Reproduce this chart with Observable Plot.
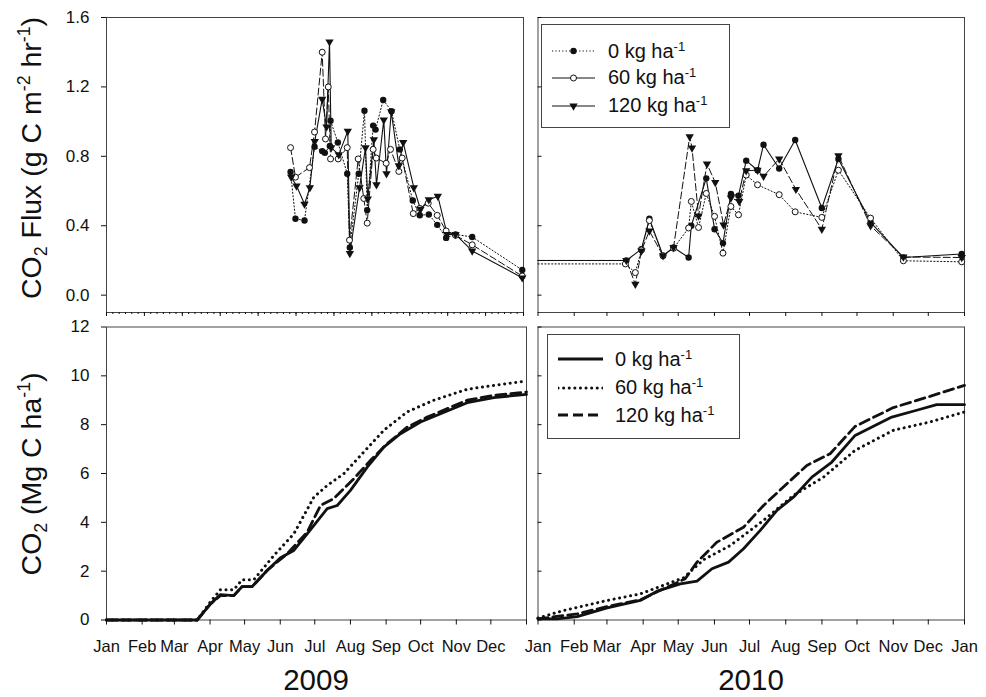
<!DOCTYPE html>
<html><head><meta charset="utf-8">
<script src="https://cdn.jsdelivr.net/npm/d3@7"></script>
<script src="https://cdn.jsdelivr.net/npm/@observablehq/plot@0.6"></script>
<style>
body{margin:0;background:#fff;font-family:"Liberation Sans",Arial,Helvetica,sans-serif;color:#111;}
#wrap{position:relative;width:986px;height:697px;overflow:hidden;background:#fff;}
#wrap > svg{position:absolute;left:0;top:0;}
.ytitle{position:absolute;white-space:nowrap;font-size:28.5px;line-height:1;transform:translate(-50%,-50%) rotate(-90deg);}
.ytitle sub,.ytitle sup{font-size:0.62em;line-height:0;}
.year{position:absolute;font-size:29.5px;line-height:1;transform:translateX(-50%);}
.legend{position:absolute;border:1px solid #444;background:#fff;box-sizing:border-box;}
.lrow{position:absolute;left:0;height:24px;display:flex;align-items:center;font-size:20px;white-space:nowrap;}
.lrow sup{font-size:0.65em;line-height:0;vertical-align:0.55em;}
.lrow svg{position:static;display:block;}
</style></head>
<body><div id="wrap"></div>
<script>
// ---------- data ----------
const monthStarts = [0,31,59,90,120,151,181,212,243,273,304,334,365];
const monthLabels = ["Jan","Feb","Mar","Apr","May","Jun","Jul","Aug","Sep","Oct","Nov","Dec","Jan"];
const fluxTicks = [0,0.4,0.8,1.2,1.6];
const cumTicks = [0,2,4,6,8,10,12];
const rates = ["0","60","120"];
const years = ["2009","2010"];

// 2009 flux (g C m-2 hr-1)
const fluxDay09_0 = [161.1,165.4,173.3,182.1,188.8,191.1,195.5,196.1,202.5,210.7,213.0,220.8,225.8,228.2,233.4,235.5,242.2,249.5,256.7,268.1,274.2,282.1,289.5,297.3,305.5,320.1,363.9];
const flux09_0    = [0.71,0.44,0.43,0.855,0.83,0.82,0.86,1.005,0.88,0.70,0.275,0.70,1.063,0.49,0.977,0.954,1.125,1.06,0.84,0.545,0.46,0.465,0.405,0.33,0.35,0.335,0.145];
const fluxDay09_60 = [161.1,165.4,177.7,182.1,188.8,191.7,194.1,196.1,202.8,210.7,212.7,220.3,225.2,228.2,233.4,236.1,244.8,248.6,255.9,258.8,268.5,274.2,281.6,289.5,297.3,305.5,320.1,363.9];
const flux09_60    = [0.85,0.68,0.735,0.94,1.40,0.90,1.20,0.785,0.785,0.85,0.317,0.785,0.557,0.415,0.84,0.79,0.76,0.84,0.713,0.79,0.47,0.50,0.53,0.46,0.37,0.345,0.29,0.11];
const fluxDay09_120 = [161.7,166.3,173.3,178.0,182.3,188.8,192.6,195.2,196.7,203.3,211.2,213.0,221.5,226.7,228.7,234.0,236.3,242.7,245.1,249.2,255.9,259.7,269.0,274.8,282.1,290.0,298.2,305.5,320.1,363.9];
const flux09_120    = [0.68,0.63,0.525,0.62,0.886,1.13,0.97,1.46,0.85,0.81,0.945,0.24,0.62,0.85,0.554,0.896,0.636,1.01,0.70,1.058,0.746,0.88,0.62,0.495,0.55,0.57,0.35,0.35,0.255,0.10];

// 2010 flux (first value = level from 1 Jan)
const fluxDay10_0 = [0,75.6,88.5,95.3,107,116,128.9,131.2,144,151.1,158.3,165.1,171.6,178.2,187.9,193,206.4,220.1,242.9,257.1,284.6,312.7,362.6];
const flux10_0    = [0.20,0.20,0.265,0.44,0.227,0.275,0.217,0.40,0.673,0.38,0.30,0.583,0.573,0.775,0.72,0.867,0.73,0.894,0.502,0.785,0.42,0.217,0.237];
const fluxDay10_60 = [0,74.8,83.3,88.5,95.3,107,116,128.9,131.2,137.4,144,151.1,158.3,165.1,171.6,178.2,187.9,206.4,220.1,242.9,257.1,284.6,312.7,362.6];
const flux10_60    = [0.18,0.18,0.13,0.26,0.43,0.227,0.27,0.387,0.54,0.39,0.586,0.454,0.242,0.511,0.463,0.692,0.636,0.579,0.48,0.448,0.72,0.444,0.198,0.192];
const fluxDay10_120 = [0,75.6,83.3,88.5,95.3,107,116,129.8,131.8,137.4,144.6,151.7,158.8,165.1,172.2,178.2,187.9,193,206.4,220.7,242.9,257.1,284.6,312.7,362.6];
const flux10_120    = [0.20,0.20,0.063,0.255,0.37,0.227,0.275,0.913,0.848,0.457,0.756,0.65,0.405,0.56,0.54,0.717,0.72,0.685,0.785,0.61,0.38,0.804,0.40,0.22,0.217];

// cumulative CO2 (Mg C ha-1)
const cumDay09_0 = [0,78.8,90.4,99,110.6,117.9,126.6,139.6,151.2,162.8,174.4,191.8,200.5,212,226.6,241,255.5,272.9,290.3,313.5,336.6,365];
const cum09_0    = [0,0,0.66,1.04,1.0,1.37,1.37,2.03,2.55,2.85,3.53,4.56,4.69,5.31,6.26,7.08,7.63,8.11,8.45,8.9,9.11,9.24];
const cumDay09_60 = [0,78.8,90.4,99,110.6,117.9,128,145.4,162.8,180.2,191.8,206.2,223.6,241,261.3,284.4,313.5,336.6,365];
const cum09_60    = [0,0,0.75,1.24,1.24,1.65,1.65,2.64,3.53,5.03,5.51,5.99,6.88,7.77,8.52,9.0,9.45,9.61,9.79];
const cumDay09_120 = [0,78.8,90.4,99,110.6,117.9,126.6,139.6,157,174.4,186,197.5,215,229.4,243.9,261.3,278.7,313.5,336.6,365];
const cum09_120    = [0,0,0.66,1.0,1.0,1.37,1.37,2.03,2.71,3.6,4.69,4.97,5.79,6.54,7.22,7.9,8.31,9.0,9.2,9.34];

const cumDay10_0 = [0,16.4,33.5,59.2,87.6,101.9,121.8,136.1,148.9,163.1,175.9,190.2,204.5,218.6,234.4,251.5,271.4,302.8,324.1,341.2,365];
const cum10_0    = [0.05,0.05,0.14,0.5,0.8,1.18,1.48,1.59,2.1,2.37,2.92,3.67,4.49,5.03,5.85,6.47,7.56,8.31,8.59,8.82,8.82];
const cumDay10_60 = [0,22,59.2,87.6,124.6,141.7,164.5,193,218.6,244.3,271.4,304.1,335.5,365];
const cum10_60    = [0.08,0.39,0.8,1.07,1.73,2.47,3.05,4.08,5.1,5.85,6.95,7.77,8.11,8.52];
const cumDay10_120 = [0,33.5,59.2,87.6,126,136.1,153.2,175.9,193,213,230.1,250,271.4,304.1,335.5,365];
const cum10_120    = [0.05,0.25,0.55,0.83,1.69,2.37,3.19,3.8,4.69,5.58,6.33,6.81,7.93,8.7,9.16,9.61];

// ---------- helpers ----------
const zip = (days, vals) => days.map((d, i) => ({day: d, v: vals[i]}));
const INK = "#111";
const FONT = "'Liberation Sans', Arial, Helvetica, sans-serif";
const triDown = {draw(ctx, size) {
  const s3 = Math.sqrt(3), y = -Math.sqrt(size / (s3 * 3));
  ctx.moveTo(0, -y * 2); ctx.lineTo(-s3 * y, y); ctx.lineTo(s3 * y, y); ctx.closePath();
}};
function base(x0, x1, y0, y1, yDomain) {
  return {
    width: 986, height: 697,
    marginLeft: x0, marginRight: 986 - x1, marginTop: y0, marginBottom: 697 - y1,
    x: {domain: [0, 365]}, y: {domain: yDomain},
    style: {background: "transparent", overflow: "visible", fontFamily: FONT, color: INK}
  };
}
const noText = () => "";
const wrap = document.getElementById("wrap");

// top-left axis: 11 equal intervals with minor ticks
const tlMajor = d3.range(12).map(i => i * 365 / 11);
const tlMinor = d3.range(67).map(i => i * 365 / 66);

// ---------- panel: flux 2009 ----------
const t0 = zip(fluxDay09_0, flux09_0), t60 = zip(fluxDay09_60, flux09_60), t120 = zip(fluxDay09_120, flux09_120);
wrap.append(Plot.plot({
  ...base(106, 523, 17, 312, [-0.1, 1.6]),
  marks: [
    Plot.frame({stroke: "#444"}),
    Plot.axisY({ticks: fluxTicks, tickFormat: d3.format(".1f"), tickSize: 5, tickPadding: 12, fontSize: 17, label: null}),
    Plot.axisX({ticks: tlMajor, tickSize: 4, tickFormat: noText, label: null}),
    Plot.axisX({ticks: tlMinor, tickSize: 2, tickFormat: noText, label: null}),
    Plot.line(t0, {x: "day", y: "v", stroke: INK, strokeWidth: 1, strokeDasharray: "1.2,2.2"}),
    Plot.line(t60, {x: "day", y: "v", stroke: INK, strokeWidth: 1, strokeDasharray: "7,3"}),
    Plot.line(t120, {x: "day", y: "v", stroke: INK, strokeWidth: 1.1}),
    Plot.dot(t0, {x: "day", y: "v", r: 3.2, fill: INK}),
    Plot.dot(t60, {x: "day", y: "v", r: 3, fill: "white", stroke: INK, strokeWidth: 1}),
    Plot.dot(t120, {x: "day", y: "v", r: 3.1, symbol: triDown, fill: INK})
  ]
}));

// ---------- panel: flux 2010 ----------
const u0 = zip(fluxDay10_0, flux10_0), u60 = zip(fluxDay10_60, flux10_60), u120 = zip(fluxDay10_120, flux10_120);
const sampled = d => d.day > 0;
wrap.append(Plot.plot({
  ...base(537.5, 964, 17, 312, [-0.1, 1.6]),
  marks: [
    Plot.frame({stroke: "#444"}),
    Plot.axisY({ticks: fluxTicks, tickSize: 4, dx: 4, tickFormat: noText, label: null}),
    Plot.axisX({ticks: monthStarts, tickSize: 4, tickFormat: noText, label: null}),
    Plot.line(u0, {x: "day", y: "v", stroke: INK, strokeWidth: 1.1}),
    Plot.line(u60, {x: "day", y: "v", stroke: INK, strokeWidth: 1, strokeDasharray: "1.2,2.2"}),
    Plot.line(u120, {x: "day", y: "v", stroke: INK, strokeWidth: 1, strokeDasharray: "7,3"}),
    Plot.dot(u0, {filter: sampled, x: "day", y: "v", r: 3.2, fill: INK}),
    Plot.dot(u60, {filter: sampled, x: "day", y: "v", r: 3, fill: "white", stroke: INK, strokeWidth: 1}),
    Plot.dot(u120, {filter: sampled, x: "day", y: "v", r: 3.1, symbol: triDown, fill: INK})
  ]
}));

// ---------- panels: cumulative ----------
const cumLines = (a, b, c) => [
  Plot.line(a, {x: "day", y: "v", stroke: INK, strokeWidth: 2.8}),
  Plot.line(b, {x: "day", y: "v", stroke: INK, strokeWidth: 3, strokeDasharray: "0.1,5.5", strokeLinecap: "round"}),
  Plot.line(c, {x: "day", y: "v", stroke: INK, strokeWidth: 2.8, strokeDasharray: "10,5"})
];
wrap.append(Plot.plot({
  ...base(106, 526, 326.5, 619.5, [0, 12]),
  marks: [
    Plot.frame({stroke: "#444"}),
    Plot.axisY({ticks: cumTicks, tickFormat: d3.format("d"), tickSize: 5, tickPadding: 12, fontSize: 17, label: null}),
    Plot.axisX({ticks: monthStarts.slice(0, 12), tickSize: 5, tickPadding: 15, fontSize: 16.5, tickFormat: (d, i) => monthLabels[i], label: null}),
    Plot.axisX({ticks: [365], tickSize: 5, tickFormat: noText, label: null}),
    ...cumLines(zip(cumDay09_0, cum09_0), zip(cumDay09_60, cum09_60), zip(cumDay09_120, cum09_120))
  ]
}));
wrap.append(Plot.plot({
  ...base(537.5, 964, 326.5, 619.5, [0, 12]),
  marks: [
    Plot.frame({stroke: "#444"}),
    Plot.axisY({ticks: cumTicks, tickSize: 4, dx: 4, tickFormat: noText, label: null}),
    Plot.axisX({ticks: monthStarts, tickSize: 5, tickPadding: 15, fontSize: 16.5, tickFormat: (d, i) => monthLabels[i], label: null}),
    ...cumLines(zip(cumDay10_0, cum10_0), zip(cumDay10_60, cum10_60), zip(cumDay10_120, cum10_120))
  ]
}));

// ---------- titles ----------
function addDiv(cls, html, css) {
  const el = document.createElement("div");
  el.className = cls; el.innerHTML = html; Object.assign(el.style, css);
  wrap.append(el); return el;
}
addDiv("ytitle", "CO<sub>2</sub> Flux (g C m<sup>-2</sup> hr<sup>-1</sup>)", {left: "31px", top: "158px"});
addDiv("ytitle", "CO<sub>2</sub> (Mg C ha<sup>-1</sup>)", {left: "31px", top: "474px"});
addDiv("year", years[0], {left: "316px", top: "665px"});
addDiv("year", years[1], {left: "751px", top: "665px"});

// ---------- legends ----------
const NS = "http://www.w3.org/2000/svg";
function sample(w, h, lineAttrs, marker) {
  const s = document.createElementNS(NS, "svg");
  s.setAttribute("width", w); s.setAttribute("height", h);
  const ln = document.createElementNS(NS, "line");
  ln.setAttribute("x1", 0); ln.setAttribute("x2", w); ln.setAttribute("y1", h / 2); ln.setAttribute("y2", h / 2);
  ln.setAttribute("stroke", INK);
  for (const [k, v] of Object.entries(lineAttrs)) ln.setAttribute(k, v);
  s.append(ln);
  if (marker) {
    const m = document.createElementNS(NS, "path");
    const p = d3.path();
    (marker.type === "tri" ? triDown : d3.symbolCircle).draw(p, marker.size);
    m.setAttribute("d", p.toString());
    m.setAttribute("transform", `translate(${w / 2},${h / 2})`);
    m.setAttribute("fill", marker.fill); m.setAttribute("stroke", INK); m.setAttribute("stroke-width", marker.type === "open" ? 1 : 0);
    s.append(m);
  }
  return s;
}
function legend(box, rows, rowTops, padLeft, gap) {
  const lg = addDiv("legend", "", box);
  rows.forEach((r, i) => {
    const row = document.createElement("div");
    row.className = "lrow";
    row.style.top = rowTops[i] + "px";
    row.style.left = padLeft + "px";
    const sv = r.svg; sv.style.marginRight = gap + "px";
    row.append(sv);
    const t = document.createElement("span");
    t.innerHTML = `${rates[i]} kg ha<sup>-1</sup>`;
    row.append(t);
    lg.append(row);
  });
}
const PI = Math.PI;
legend({left: "541px", top: "24px", width: "189px", height: "104px"}, [
  {svg: sample(43, 20, {"stroke-width": 1, "stroke-dasharray": "1.2,2.2"}, {type: "fill", size: 3.2 * 3.2 * PI, fill: INK})},
  {svg: sample(43, 20, {"stroke-width": 1}, {type: "open", size: 3 * 3 * PI, fill: "white"})},
  {svg: sample(43, 20, {"stroke-width": 1.1}, {type: "tri", size: 3.1 * 3.1 * PI, fill: INK})}
], [14, 40.5, 68.5], 10, 13);
legend({left: "547px", top: "334px", width: "193px", height: "105px"}, [
  {svg: sample(45, 20, {"stroke-width": 2.8})},
  {svg: sample(45, 20, {"stroke-width": 3, "stroke-dasharray": "0.1,5.5", "stroke-linecap": "round"})},
  {svg: sample(45, 20, {"stroke-width": 2.8, "stroke-dasharray": "10,5"})}
], [12, 40.5, 68], 10, 12);
</script>
</body></html>
